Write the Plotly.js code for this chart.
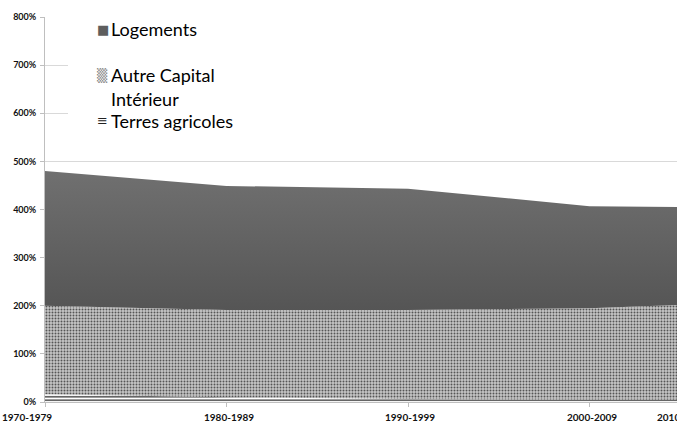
<!DOCTYPE html>
<html>
<head>
<meta charset="utf-8">
<script src="https://cdn.plot.ly/plotly-3.0.1.min.js"></script>
<style>html,body{margin:0;padding:0;background:#fff;}#chart{width:677px;height:425px;}</style>
</head>
<body>
<div id="chart"></div>
<script>
// ---- data ----
const categories = ["1970-1979", "1980-1989", "1990-1999", "2000-2009", "2010-2019"];
const terresAgricoles = [16, 10, 6, 5, 4];
const autreCapital = [184, 181, 185, 190, 205];
const logements = [280, 258, 252, 212, 194];
const seriesNames = ["Logements", "Autre Capital\nIntérieur", "Terres agricoles"];
const yTicks = [0, 100, 200, 300, 400, 500, 600, 700, 800];

const xIdx = categories.map((c, i) => i);

const traces = [
  {
    x: xIdx, y: terresAgricoles, name: seriesNames[2], type: 'scatter', mode: 'lines',
    stackgroup: 'one', line: {width: 0, color: '#222'},
    fillcolor: '#ffffff',
    fillpattern: {shape: '-', fgcolor: '#222222', bgcolor: '#ffffff', size: 3.5, solidity: 0.35},
    hoverinfo: 'skip'
  },
  {
    x: xIdx, y: autreCapital, name: seriesNames[1], type: 'scatter', mode: 'lines',
    stackgroup: 'one', line: {width: 0, color: '#999'},
    fillcolor: '#bdbdbd',
    fillpattern: {shape: '.', fgcolor: '#555555', bgcolor: '#c6c6c6', size: 3, solidity: 0.33},
    hoverinfo: 'skip'
  },
  {
    x: xIdx, y: logements, name: seriesNames[0], type: 'scatter', mode: 'lines',
    stackgroup: 'one', line: {width: 0, color: '#666'},
    fillcolor: '#626262',
    fillgradient: {type: 'vertical', colorscale: [[0, '#555555'], [1, '#707070']]},
    hoverinfo: 'skip'
  }
];

const L = 45, R = 677, T = 17, B = 402;
const pw = R - L, ph = B - T;
const px = v => (v - L) / pw;
const py = v => (B - v) / ph;

const annotations = [];
const tickFont = {family: 'Lato, "Open Sans", sans-serif', size: 10, color: '#111', weight: 700};
// x category labels
const xShift = [-18, 2, 2, 2];
categories.forEach((c, i) => {
  if (i < 4) {
    annotations.push({
      x: i, y: 0, xref: 'x', yref: 'paper', text: c, showarrow: false,
      xanchor: 'center', yanchor: 'top', yshift: -7, xshift: xShift[i], font: tickFont
    });
  } else {
    annotations.push({
      x: 1, y: 0, xref: 'paper', yref: 'paper', text: c, showarrow: false,
      xanchor: 'left', yanchor: 'top', yshift: -7, xshift: -22, font: tickFont
    });
  }
});

// legend
const legFont = {family: 'Lato, "Open Sans", sans-serif', size: 18, color: '#000'};
const legItems = [
  {name: seriesNames[0], sym: '■', symColor: '#5e5e5e', yc: [29]},
  {name: seriesNames[1], sym: '▒', symColor: '#888888', yc: [75, 99]},
  {name: seriesNames[2], sym: '≡', symColor: '#222', yc: [121]}
];
legItems.forEach(it => {
  annotations.push({
    x: px(95), y: py(it.yc[0]), xref: 'paper', yref: 'paper', text: it.sym, showarrow: false,
    xanchor: 'left', yanchor: 'middle',
    font: {family: 'DejaVu Sans', size: 13, color: it.symColor}
  });
  it.name.split('\n').forEach((line, k) => {
    annotations.push({
      x: px(109), y: py(it.yc[k]), xref: 'paper', yref: 'paper', text: line, showarrow: false,
      xanchor: 'left', yanchor: 'middle', font: legFont
    });
  });
});

const layout = {
  width: 677, height: 425,
  margin: {l: L, r: 0, t: T, b: 425 - B},
  paper_bgcolor: '#ffffff', plot_bgcolor: '#ffffff',
  showlegend: false,
  xaxis: {
    type: 'linear', range: [0, pw / 181.5], showgrid: false, zeroline: false,
    showline: true, linecolor: '#bfbfbf', linewidth: 1,
    ticks: 'outside', ticklen: 4, tickcolor: '#bfbfbf', tickvals: xIdx,
    showticklabels: false, fixedrange: true
  },
  yaxis: {
    range: [0, 800], tickvals: yTicks, ticktext: yTicks.map(v => v + '%'),
    showgrid: true, gridcolor: '#d9d9d9', gridwidth: 1, zeroline: false,
    showline: true, linecolor: '#bfbfbf', linewidth: 1,
    ticks: 'outside', ticklen: 4, tickcolor: '#bfbfbf',
    tickfont: {family: 'Lato, "Open Sans", sans-serif', size: 9, color: '#111', weight: 700},
    ticklabelstandoff: 2, fixedrange: true
  },
  shapes: [
    {
      type: 'rect', xref: 'paper', yref: 'paper', layer: 'above',
      x0: px(68), x1: px(236), y0: py(140), y1: py(8),
      fillcolor: '#ffffff', line: {width: 0}
    },
    {
      type: 'rect', xref: 'paper', yref: 'paper', layer: 'above',
      x0: px(236), x1: 1, y0: py(140), y1: py(19),
      fillcolor: '#ffffff', line: {width: 0}
    }
  ],
  annotations: annotations
};

Plotly.newPlot('chart', traces, layout, {displayModeBar: false, staticPlot: true});
</script>
</body>
</html>
